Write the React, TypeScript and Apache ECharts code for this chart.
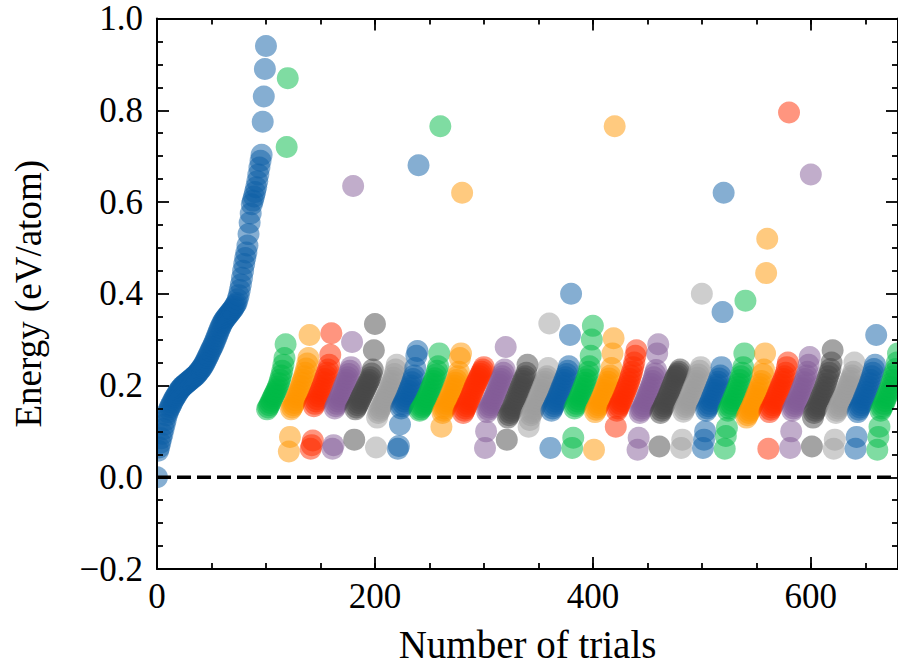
import React, { useEffect, useRef } from "react";
import * as echarts from "echarts";

// SciencePlots colour cycle
const palette = ["#0C5DA5", "#00B945", "#FF9500", "#FF2C00", "#845B97", "#474747", "#9e9e9e"];

const xMin = 0;
const xMax = 680;
const xMajorStep = 200;
const xMinorStep = 50;
const xTickLabels = ["0", "200", "400", "600"];

const yMin = -0.2;
const yMax = 1.0;
const yStep = 0.2;
const yTickLabels = ["\u22120.2", "0.0", "0.2", "0.4", "0.6", "0.8", "1.0"];

const referenceEnergy = 0;
const xAxisTitle = "Number of trials";
const yAxisTitle = "Energy (eV/atom)";

// initial random trials (x = 0 .. 100), sorted
const initialTrials: number[] = [
  0.0, 0.058, 0.065, 0.075, 0.085, 0.095, 0.105, 0.115, 0.125, 0.135,
  0.142, 0.148, 0.153, 0.158, 0.163, 0.168, 0.172, 0.176, 0.18, 0.184,
  0.188, 0.191, 0.194, 0.197, 0.199, 0.201, 0.203, 0.205, 0.207, 0.209,
  0.211, 0.213, 0.215, 0.217, 0.219, 0.221, 0.223, 0.226, 0.229, 0.232,
  0.235, 0.238, 0.242, 0.246, 0.25, 0.255, 0.26, 0.265, 0.27, 0.275,
  0.28, 0.285, 0.29, 0.296, 0.302, 0.308, 0.314, 0.32, 0.326, 0.331,
  0.336, 0.34, 0.344, 0.347, 0.35, 0.353, 0.356, 0.359, 0.362, 0.365,
  0.368, 0.372, 0.376, 0.38, 0.388, 0.397, 0.408, 0.42, 0.435, 0.45,
  0.465, 0.478, 0.49, 0.505, 0.53, 0.555, 0.575, 0.595, 0.603, 0.612,
  0.622, 0.632, 0.645, 0.66, 0.675, 0.69, 0.703, 0.775, 0.83, 0.89,
  0.94,
];

// each generation: 20 trials, sorted energies
const firstGenerationStart = 101;
const generationSize = 20;
const gen01 = [0.148, 0.152, 0.157, 0.162, 0.167, 0.172, 0.177, 0.182, 0.187, 0.192, 0.198, 0.205, 0.213, 0.222, 0.232, 0.245, 0.26, 0.29, 0.72, 0.87];
const gen02 = [0.056, 0.088, 0.148, 0.152, 0.157, 0.162, 0.168, 0.174, 0.18, 0.186, 0.192, 0.199, 0.206, 0.213, 0.22, 0.228, 0.237, 0.248, 0.26, 0.31];
const gen03 = [0.062, 0.07, 0.08, 0.155, 0.16, 0.165, 0.17, 0.176, 0.182, 0.188, 0.194, 0.2, 0.207, 0.214, 0.221, 0.228, 0.235, 0.245, 0.267, 0.314];
const gen04 = [0.062, 0.07, 0.15, 0.155, 0.16, 0.165, 0.17, 0.176, 0.182, 0.188, 0.194, 0.2, 0.206, 0.212, 0.218, 0.225, 0.232, 0.24, 0.295, 0.635];
const gen05 = [0.082, 0.148, 0.152, 0.157, 0.162, 0.167, 0.172, 0.177, 0.182, 0.187, 0.192, 0.197, 0.202, 0.207, 0.212, 0.218, 0.226, 0.235, 0.277, 0.334];
const gen06 = [0.065, 0.13, 0.14, 0.145, 0.15, 0.155, 0.16, 0.165, 0.17, 0.175, 0.18, 0.186, 0.192, 0.198, 0.204, 0.21, 0.217, 0.225, 0.235, 0.245];
const gen07 = [0.062, 0.068, 0.115, 0.15, 0.155, 0.16, 0.165, 0.17, 0.176, 0.182, 0.188, 0.194, 0.2, 0.207, 0.214, 0.222, 0.238, 0.265, 0.275, 0.68];
const gen08 = [0.145, 0.148, 0.152, 0.156, 0.16, 0.165, 0.17, 0.175, 0.18, 0.186, 0.192, 0.198, 0.204, 0.21, 0.216, 0.224, 0.232, 0.242, 0.27, 0.765];
const gen09 = [0.11, 0.14, 0.145, 0.15, 0.155, 0.16, 0.165, 0.17, 0.176, 0.182, 0.188, 0.194, 0.2, 0.206, 0.212, 0.22, 0.23, 0.26, 0.27, 0.62];
const gen10 = [0.14, 0.145, 0.15, 0.155, 0.16, 0.165, 0.17, 0.176, 0.182, 0.188, 0.194, 0.2, 0.205, 0.21, 0.215, 0.22, 0.225, 0.23, 0.235, 0.24];
const gen11 = [0.064, 0.1, 0.142, 0.147, 0.152, 0.157, 0.162, 0.167, 0.172, 0.178, 0.184, 0.19, 0.196, 0.202, 0.208, 0.214, 0.22, 0.228, 0.235, 0.284];
const gen12 = [0.082, 0.13, 0.135, 0.14, 0.145, 0.15, 0.156, 0.162, 0.168, 0.174, 0.18, 0.186, 0.192, 0.198, 0.204, 0.21, 0.215, 0.22, 0.228, 0.245];
const gen13 = [0.11, 0.125, 0.135, 0.14, 0.145, 0.15, 0.155, 0.16, 0.166, 0.172, 0.178, 0.184, 0.19, 0.196, 0.202, 0.208, 0.214, 0.22, 0.238, 0.335];
const gen14 = [0.064, 0.145, 0.15, 0.155, 0.16, 0.165, 0.17, 0.176, 0.182, 0.188, 0.194, 0.2, 0.206, 0.212, 0.218, 0.225, 0.232, 0.242, 0.31, 0.4];
const gen15 = [0.064, 0.086, 0.15, 0.155, 0.16, 0.165, 0.17, 0.176, 0.182, 0.188, 0.194, 0.2, 0.206, 0.213, 0.22, 0.23, 0.242, 0.265, 0.3, 0.33];
const gen16 = [0.06, 0.142, 0.147, 0.152, 0.157, 0.162, 0.167, 0.172, 0.178, 0.184, 0.19, 0.196, 0.202, 0.208, 0.215, 0.222, 0.238, 0.27, 0.303, 0.765];
const gen17 = [0.11, 0.145, 0.15, 0.155, 0.16, 0.165, 0.17, 0.176, 0.182, 0.188, 0.194, 0.2, 0.207, 0.214, 0.222, 0.23, 0.24, 0.25, 0.265, 0.277];
const gen18 = [0.06, 0.086, 0.14, 0.145, 0.15, 0.155, 0.16, 0.166, 0.172, 0.178, 0.184, 0.19, 0.196, 0.203, 0.21, 0.218, 0.226, 0.234, 0.27, 0.29];
const gen19 = [0.067, 0.14, 0.145, 0.15, 0.155, 0.16, 0.165, 0.17, 0.176, 0.182, 0.188, 0.194, 0.2, 0.206, 0.212, 0.218, 0.222, 0.226, 0.23, 0.235];
const gen20 = [0.064, 0.082, 0.143, 0.148, 0.153, 0.158, 0.163, 0.168, 0.174, 0.18, 0.186, 0.192, 0.198, 0.204, 0.21, 0.217, 0.224, 0.232, 0.24, 0.4];
const gen21 = [0.064, 0.082, 0.1, 0.145, 0.15, 0.155, 0.16, 0.166, 0.172, 0.178, 0.184, 0.19, 0.196, 0.202, 0.208, 0.215, 0.222, 0.24, 0.36, 0.62];
const gen22 = [0.062, 0.09, 0.108, 0.145, 0.15, 0.155, 0.16, 0.166, 0.172, 0.178, 0.184, 0.19, 0.197, 0.204, 0.212, 0.22, 0.228, 0.24, 0.27, 0.385];
const gen23 = [0.13, 0.135, 0.14, 0.145, 0.15, 0.155, 0.16, 0.166, 0.172, 0.178, 0.184, 0.19, 0.196, 0.203, 0.21, 0.225, 0.235, 0.27, 0.445, 0.52];
const gen24 = [0.062, 0.142, 0.147, 0.152, 0.157, 0.162, 0.167, 0.172, 0.178, 0.184, 0.19, 0.196, 0.202, 0.208, 0.214, 0.22, 0.228, 0.24, 0.25, 0.795];
const gen25 = [0.064, 0.1, 0.145, 0.15, 0.155, 0.16, 0.165, 0.17, 0.176, 0.182, 0.188, 0.194, 0.2, 0.207, 0.214, 0.222, 0.23, 0.245, 0.262, 0.66];
const gen26 = [0.067, 0.13, 0.14, 0.145, 0.15, 0.155, 0.16, 0.166, 0.172, 0.178, 0.184, 0.19, 0.197, 0.204, 0.212, 0.22, 0.228, 0.236, 0.25, 0.277];
const gen27 = [0.062, 0.082, 0.14, 0.145, 0.15, 0.155, 0.16, 0.165, 0.17, 0.175, 0.18, 0.186, 0.192, 0.198, 0.204, 0.21, 0.216, 0.222, 0.23, 0.25];
const gen28 = [0.062, 0.088, 0.142, 0.147, 0.152, 0.157, 0.162, 0.168, 0.174, 0.18, 0.186, 0.192, 0.198, 0.205, 0.212, 0.22, 0.228, 0.236, 0.245, 0.31];
const gen29 = [0.06, 0.088, 0.11, 0.145, 0.15, 0.155, 0.16, 0.166, 0.172, 0.178, 0.184, 0.19, 0.197, 0.205, 0.212, 0.22, 0.228, 0.236, 0.25, 0.27];

const generations = [
  gen01, gen02, gen03, gen04, gen05, gen06, gen07, gen08, gen09, gen10,
  gen11, gen12, gen13, gen14, gen15, gen16, gen17, gen18, gen19, gen20,
  gen21, gen22, gen23, gen24, gen25, gen26, gen27, gen28, gen29,
];

const FONT = "Liberation Serif";
const BLACK = "#000";

export default function App() {
  const ref = useRef<HTMLDivElement>(null);

  useEffect(() => {
    if (!ref.current) return;
    document.body.style.margin = "0";
    const chart = echarts.init(ref.current, undefined, { renderer: "svg" });

    const markerStyle = (color: string) => ({
      type: "scatter" as const,
      symbol: "circle",
      symbolSize: 22,
      itemStyle: { color, opacity: 0.5, borderWidth: 0 },
      z: 2,
      emphasis: { disabled: true },
    });

    const series: any[] = [];
    series.push({
      ...markerStyle(palette[0]),
      data: initialTrials.map((e, i) => [i, e]),
    });
    generations.forEach((g, k) => {
      const start = firstGenerationStart + k * generationSize;
      series.push({
        ...markerStyle(palette[(k + 1) % palette.length]),
        data: g.map((e, i) => [start + i, e]),
      });
    });
    series.push({
      type: "line",
      data: [
        [xMin, referenceEnergy],
        [xMax, referenceEnergy],
      ],
      symbol: "none",
      silent: true,
      z: 20,
      lineStyle: { color: BLACK, width: 3.6, type: [14, 6] },
    });

    const tickLine = { color: BLACK, width: 1.8 };
    const axisLine = { show: true, onZero: false, lineStyle: { color: BLACK, width: 2 } };

    const xBase = {
      type: "value" as const,
      min: xMin,
      max: xMax,
      splitLine: { show: false },
      z: 10,
    };
    const yBase = {
      type: "value" as const,
      min: yMin,
      max: yMax,
      interval: yStep,
      splitLine: { show: false },
      z: 10,
    };

    chart.setOption({
      animation: false,
      backgroundColor: "#fff",
      grid: { left: 157, top: 17, width: 742, height: 553 },
      graphic: [
        {
          type: "rect",
          shape: { x: 0, y: 0, width: 156, height: 669 },
          style: { fill: "#fff" },
          z: 5,
          silent: true,
        },
      ],
      xAxis: [
        {
          ...xBase,
          position: "bottom",
          interval: xMajorStep,
          axisLine,
          axisTick: { inside: true, length: 12, lineStyle: tickLine },
          axisLabel: {
            margin: 10,
            fontSize: 35,
            fontFamily: FONT,
            color: BLACK,
            showMaxLabel: false,
            formatter: (v: number) => xTickLabels[Math.round((v - xMin) / xMajorStep)] ?? "",
          },
          name: xAxisTitle,
          nameLocation: "middle",
          nameGap: 56,
          nameTextStyle: { fontSize: 39, fontFamily: FONT, color: BLACK },
        },
        {
          ...xBase,
          position: "bottom",
          interval: xMinorStep,
          axisLine: { show: false, onZero: false },
          axisTick: { inside: true, length: 6, lineStyle: tickLine },
          axisLabel: { show: false },
        },
        {
          ...xBase,
          position: "top",
          interval: xMajorStep,
          axisLine,
          axisTick: { inside: true, length: 12, lineStyle: tickLine },
          axisLabel: { show: false },
        },
        {
          ...xBase,
          position: "top",
          interval: xMinorStep,
          axisLine: { show: false, onZero: false },
          axisTick: { inside: true, length: 6, lineStyle: tickLine },
          axisLabel: { show: false },
        },
      ],
      yAxis: [
        {
          ...yBase,
          position: "left",
          axisLine,
          axisTick: { inside: true, length: 12, lineStyle: tickLine },
          minorTick: { show: true, splitNumber: 4, length: 6, lineStyle: tickLine },
          axisLabel: {
            margin: 14,
            fontSize: 35,
            lineHeight: 30,
            padding: [7, 0, 0, 0],
            fontFamily: FONT,
            color: BLACK,
            formatter: (v: number) => yTickLabels[Math.round((v - yMin) / yStep)] ?? "",
          },
          name: yAxisTitle,
          nameLocation: "middle",
          nameGap: 110,
          nameTextStyle: { fontSize: 37, fontFamily: FONT, color: BLACK },
        },
        {
          ...yBase,
          position: "right",
          axisLine,
          axisTick: { inside: true, length: 12, lineStyle: tickLine },
          minorTick: { show: true, splitNumber: 4, length: 6, lineStyle: tickLine },
          axisLabel: { show: false },
        },
      ],
      series,
    });

    return () => chart.dispose();
  }, []);

  return (
    <div
      ref={ref}
      style={{ position: "absolute", left: 0, top: 0, width: 898, height: 669, background: "#fff" }}
    />
  );
}
